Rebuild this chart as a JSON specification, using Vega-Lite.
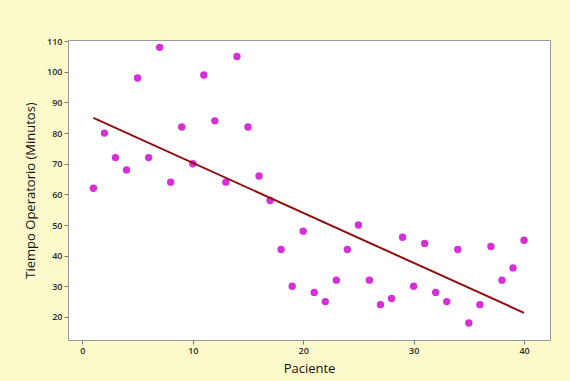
{
  "$schema": "https://vega.github.io/schema/vega-lite/v6.json",
  "width": 482,
  "height": 300,
  "autosize": "none",
  "padding": {"left": 68, "top": 40, "right": 20, "bottom": 41},
  "background": "#fcf9cb",
  "config": {
    "view": {"fill": "white", "stroke": "#9a9a9a", "strokeWidth": 1},
    "axis": {
      "grid": false,
      "domain": false,
      "tickColor": "#777777",
      "tickSize": 4,
      "labelFont": "Open Sans",
      "labelFontSize": 9,
      "labelFontWeight": 600,
      "labelColor": "#2a2a2a",
      "titleFont": "Open Sans",
      "titleFontSize": 13,
      "titleFontWeight": "normal",
      "titleColor": "#111111"
    }
  },
  "data": {
    "values": [
      {"Paciente": 1, "Tiempo": 62}, {"Paciente": 2, "Tiempo": 80},
      {"Paciente": 3, "Tiempo": 72}, {"Paciente": 4, "Tiempo": 68},
      {"Paciente": 5, "Tiempo": 98}, {"Paciente": 6, "Tiempo": 72},
      {"Paciente": 7, "Tiempo": 108}, {"Paciente": 8, "Tiempo": 64},
      {"Paciente": 9, "Tiempo": 82}, {"Paciente": 10, "Tiempo": 70},
      {"Paciente": 11, "Tiempo": 99}, {"Paciente": 12, "Tiempo": 84},
      {"Paciente": 13, "Tiempo": 64}, {"Paciente": 14, "Tiempo": 105},
      {"Paciente": 15, "Tiempo": 82}, {"Paciente": 16, "Tiempo": 66},
      {"Paciente": 17, "Tiempo": 58}, {"Paciente": 18, "Tiempo": 42},
      {"Paciente": 19, "Tiempo": 30}, {"Paciente": 20, "Tiempo": 48},
      {"Paciente": 21, "Tiempo": 28}, {"Paciente": 22, "Tiempo": 25},
      {"Paciente": 23, "Tiempo": 32}, {"Paciente": 24, "Tiempo": 42},
      {"Paciente": 25, "Tiempo": 50}, {"Paciente": 26, "Tiempo": 32},
      {"Paciente": 27, "Tiempo": 24}, {"Paciente": 28, "Tiempo": 26},
      {"Paciente": 29, "Tiempo": 46}, {"Paciente": 30, "Tiempo": 30},
      {"Paciente": 31, "Tiempo": 44}, {"Paciente": 32, "Tiempo": 28},
      {"Paciente": 33, "Tiempo": 25}, {"Paciente": 34, "Tiempo": 42},
      {"Paciente": 35, "Tiempo": 18}, {"Paciente": 36, "Tiempo": 24},
      {"Paciente": 37, "Tiempo": 43}, {"Paciente": 38, "Tiempo": 32},
      {"Paciente": 39, "Tiempo": 36}, {"Paciente": 40, "Tiempo": 45}
    ]
  },
  "encoding": {
    "x": {
      "field": "Paciente", "type": "quantitative",
      "scale": {"domain": [-1.3, 42.35], "nice": false, "zero": false},
      "axis": {"values": [0, 10, 20, 30, 40], "title": "Paciente", "titlePadding": 7}
    },
    "y": {
      "field": "Tiempo", "type": "quantitative",
      "scale": {"domain": [12.46, 110.4], "nice": false, "zero": false},
      "axis": {"values": [20, 30, 40, 50, 60, 70, 80, 90, 100, 110], "title": "Tiempo Operatorio (Minutos)", "titlePadding": 9}
    }
  },
  "layer": [
    {
      "mark": {"type": "point", "filled": true, "shape": "circle", "size": 55, "color": "#d52fd8", "opacity": 1}
    },
    {
      "transform": [{"regression": "Tiempo", "on": "Paciente", "extent": [1, 40]}],
      "mark": {"type": "line", "color": "#8e1010", "strokeWidth": 2}
    }
  ]
}
